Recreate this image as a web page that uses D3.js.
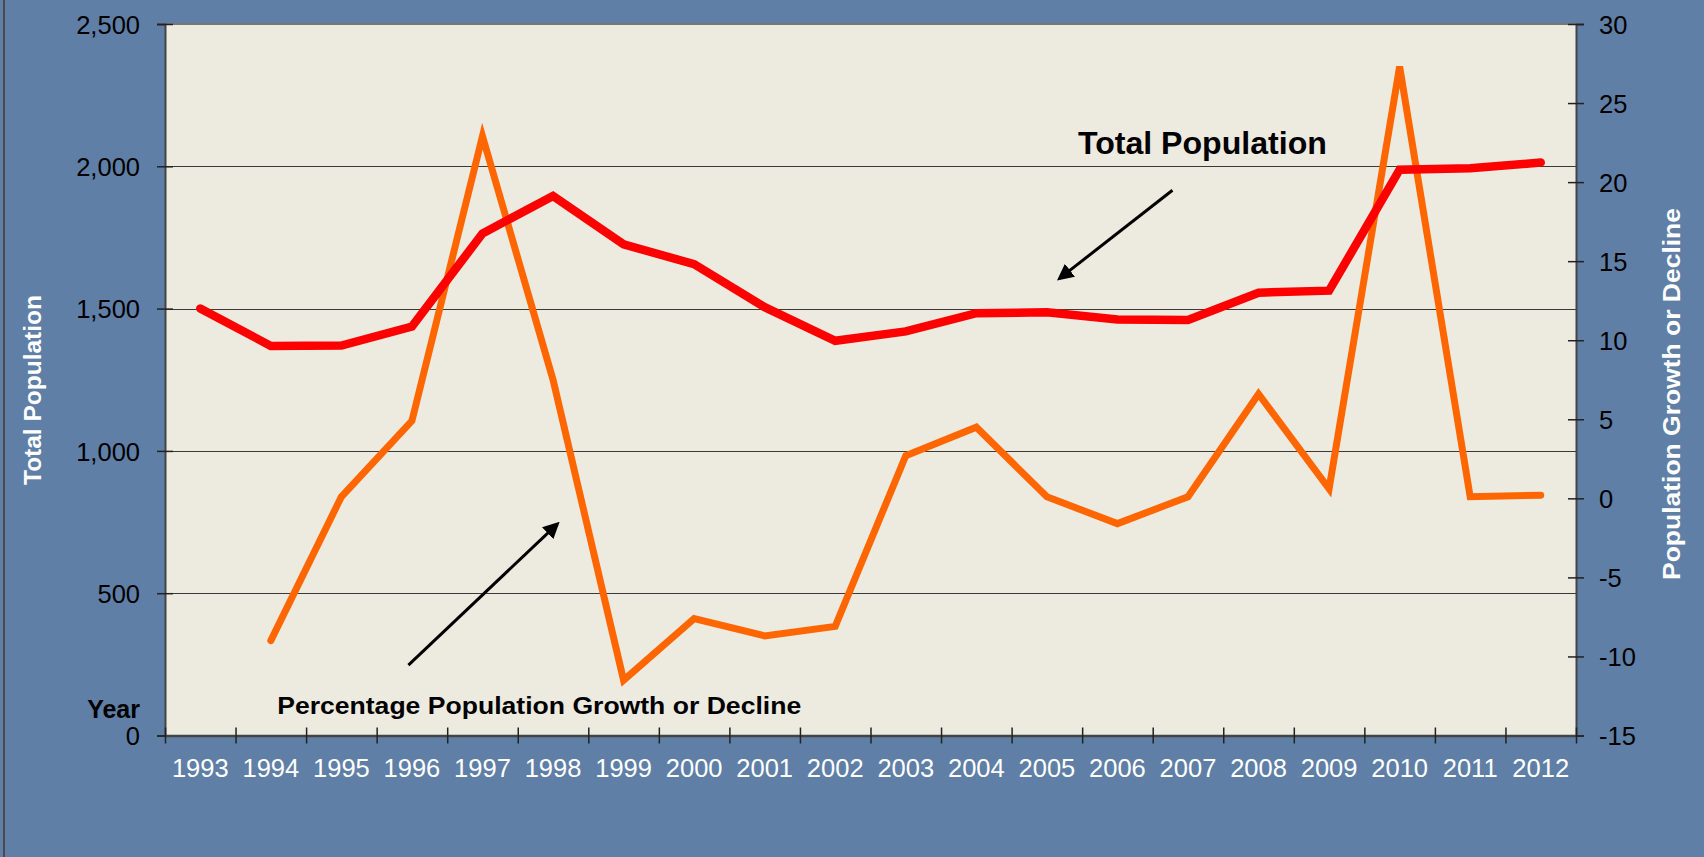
<!DOCTYPE html>
<html>
<head>
<meta charset="utf-8">
<script src="https://cdn.jsdelivr.net/npm/d3@7"></script>
<style>
  html, body { margin: 0; padding: 0; background: #5F7FA6; }
  svg { display: block; font-family: "Liberation Sans", Arial, sans-serif; }
</style>
</head>
<body>
<svg id="chart" width="1704" height="857"></svg>
<script>
// ---- data ----
const years = ["1993","1994","1995","1996","1997","1998","1999","2000","2001","2002",
               "2003","2004","2005","2006","2007","2008","2009","2010","2011","2012"];
const totalPopulation = [1500, 1369, 1370, 1437, 1764, 1896, 1726, 1656, 1505, 1387,
                         1420, 1484, 1487, 1462, 1460, 1556, 1563, 1988, 1993, 2013];
const growthPct = [null, -9.0, 0.1, 4.9, 22.9, 7.5, -11.5, -7.6, -8.7, -8.1,
                   2.7, 4.5, 0.1, -1.6, 0.1, 6.6, 0.6, 27.3, 0.1, 0.2];
const leftTicks = [0, 500, 1000, 1500, 2000, 2500];
const rightTicks = [-15, -10, -5, 0, 5, 10, 15, 20, 25, 30];

// ---- layout ----
const W = 1704, H = 857;
const plot = { left: 165, right: 1576, top: 24, bottom: 735.5 };

const svg = d3.select("#chart");

svg.append("rect").attr("x", 0).attr("y", 0).attr("width", W).attr("height", H).attr("fill", "#5F7FA6");
svg.append("line").attr("x1", 4).attr("x2", 4).attr("y1", 0).attr("y2", H)
  .attr("stroke", "#4a4a4a").attr("stroke-width", 2);

const x = d3.scaleBand().domain(years).range([plot.left, plot.right]).padding(0);
const xIdx = d3.scaleLinear().domain([0, years.length]).range([plot.left, plot.right]);
const yL = d3.scaleLinear().domain([0, 2500]).range([plot.bottom, plot.top]);
const yR = d3.scaleLinear().domain([-15, 30]).range([plot.bottom, plot.top]);
const cx = d => x(d) + x.bandwidth() / 2;

// plot background
svg.append("rect")
  .attr("x", plot.left).attr("y", plot.top)
  .attr("width", plot.right - plot.left).attr("height", plot.bottom - plot.top)
  .attr("fill", "#EDEBE0");

// gridlines
svg.append("g").selectAll("line").data(leftTicks.filter(t => t > 0 && t < 2500)).join("line")
  .attr("x1", plot.left).attr("x2", plot.right)
  .attr("y1", d => Math.round(yL(d)) + 0.5).attr("y2", d => Math.round(yL(d)) + 0.5)
  .attr("stroke", "#3a3a3a").attr("stroke-width", 1.2);

// top border of plot
svg.append("line").attr("x1", plot.left).attr("x2", plot.right)
  .attr("y1", plot.top).attr("y2", plot.top).attr("stroke", "#777").attr("stroke-width", 2);

// left axis
const gL = svg.append("g").attr("transform", `translate(${plot.left},0)`)
  .call(d3.axisLeft(yL).tickValues(leftTicks).tickSize(8).tickPadding(18).tickFormat(d3.format(",")));
gL.select(".domain").attr("stroke", "#444").attr("stroke-width", 2);
gL.selectAll(".tick line").attr("x2", -8).attr("x1", 8).attr("stroke", "#222").attr("stroke-width", 1.5);
gL.selectAll(".tick text").attr("fill", "#000").style("font-size", "25.5px")
  .attr("x", -25).attr("dy", "0.36em");

// right axis
const gR = svg.append("g").attr("transform", `translate(${plot.right},0)`)
  .call(d3.axisRight(yR).tickValues(rightTicks).tickSize(8).tickPadding(18)
    .tickFormat(d => String(d)));
gR.select(".domain").attr("stroke", "#444").attr("stroke-width", 2);
gR.selectAll(".tick line").attr("x1", -8).attr("x2", 8).attr("stroke", "#222").attr("stroke-width", 1.5);
gR.selectAll(".tick text").attr("fill", "#000").style("font-size", "25.5px")
  .attr("x", 23).attr("dy", "0.36em");

// bottom axis: labels at band centres
const gB = svg.append("g").attr("transform", `translate(0,${plot.bottom})`)
  .call(d3.axisBottom(x).tickSize(0).tickPadding(23));
gB.select(".domain").attr("stroke", "#444").attr("stroke-width", 2.5);
gB.selectAll(".tick text").attr("fill", "#fff").style("font-size", "25.5px");

// bottom axis: boundary ticks
const gBT = svg.append("g").attr("transform", `translate(0,${plot.bottom})`)
  .call(d3.axisBottom(xIdx).tickValues(d3.range(0, years.length + 1)).tickSize(8).tickFormat(""));
gBT.select(".domain").remove();
gBT.selectAll(".tick line").attr("y1", -8).attr("y2", 8).attr("stroke", "#222").attr("stroke-width", 1.5);

// lines
const lineL = d3.line().x((d, i) => cx(years[i])).y(d => yL(d));
const lineR = d3.line().defined(d => d !== null).x((d, i) => cx(years[i])).y(d => yR(d));

svg.append("path").datum(growthPct).attr("d", lineR)
  .attr("fill", "none").attr("stroke", "#FF6600").attr("stroke-width", 7)
  .attr("stroke-linejoin", "miter").attr("stroke-linecap", "round");

svg.append("path").datum(totalPopulation).attr("d", lineL)
  .attr("fill", "none").attr("stroke", "#FF0000").attr("stroke-width", 8.5)
  .attr("stroke-linejoin", "miter").attr("stroke-linecap", "round");

// axis titles
svg.append("text")
  .attr("transform", `translate(33,390) rotate(-90)`)
  .attr("text-anchor", "middle").attr("dominant-baseline", "central")
  .attr("fill", "#fff").style("font-weight", "bold").style("font-size", "23px")
  .attr("textLength", 190).attr("lengthAdjust", "spacingAndGlyphs")
  .text("Total Population");

svg.append("text")
  .attr("transform", `translate(1671,394) rotate(-90)`)
  .attr("text-anchor", "middle").attr("dominant-baseline", "central")
  .attr("fill", "#fff").style("font-weight", "bold").style("font-size", "24px")
  .attr("textLength", 372).attr("lengthAdjust", "spacingAndGlyphs")
  .text("Population Growth or Decline");

svg.append("text")
  .attr("x", 140).attr("y", 718).attr("text-anchor", "end")
  .attr("fill", "#000").style("font-weight", "bold").style("font-size", "25px")
  .text("Year");

// annotations
const defs = svg.append("defs");
defs.append("marker").attr("id", "ah").attr("viewBox", "0 0 10 10")
  .attr("refX", 8).attr("refY", 5).attr("markerWidth", 5.5).attr("markerHeight", 5.5)
  .attr("markerUnits", "strokeWidth").attr("orient", "auto")
  .append("path").attr("d", "M0,0 L10,5 L0,10 z").attr("fill", "#000");

// arrow positions in data space: [index position, left-axis value]
const annTotal = { from: [14.28, 1916], to: [12.68, 1606] };
const annGrowth = { from: [3.45, 247], to: [5.56, 743] };
[annTotal, annGrowth].forEach(a => {
  svg.append("line")
    .attr("x1", xIdx(a.from[0])).attr("y1", yL(a.from[1]))
    .attr("x2", xIdx(a.to[0])).attr("y2", yL(a.to[1]))
    .attr("stroke", "#000").attr("stroke-width", 3)
    .attr("marker-end", "url(#ah)");
});

svg.append("text")
  .attr("x", xIdx(12.94)).attr("y", yL(2043))
  .attr("fill", "#000").style("font-weight", "bold").style("font-size", "32px")
  .attr("textLength", 249).attr("lengthAdjust", "spacingAndGlyphs")
  .text("Total Population");

svg.append("text")
  .attr("x", xIdx(1.59)).attr("y", yL(76))
  .attr("fill", "#000").style("font-weight", "bold").style("font-size", "24px")
  .attr("textLength", 524).attr("lengthAdjust", "spacingAndGlyphs")
  .text("Percentage Population Growth or Decline");
</script>
</body>
</html>
